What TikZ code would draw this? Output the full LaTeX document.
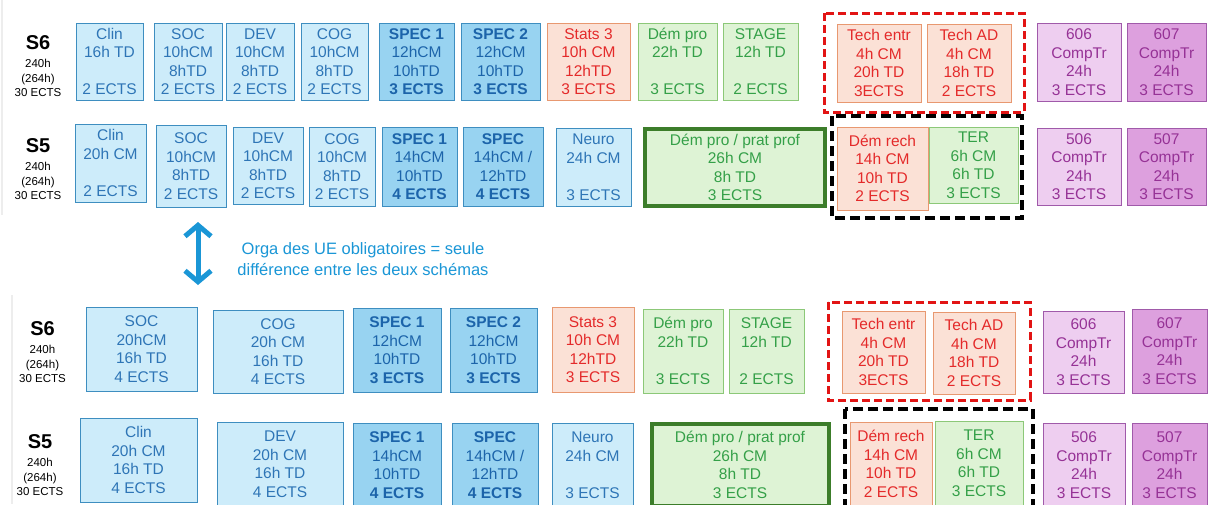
\documentclass[tikz,border=0pt]{standalone}
\usepackage{fontspec}
\setmainfont{Liberation Sans}
\usepackage{tikz}
\usetikzlibrary{positioning,arrows.meta}

\definecolor{bleuclair}{RGB}{205,236,250}
\definecolor{bleuspec}{RGB}{152,211,241}
\definecolor{bleutrait}{RGB}{62,142,192}
\definecolor{bleutexte}{RGB}{46,117,182}
\definecolor{bleuspectexte}{RGB}{28,100,170}
\definecolor{rougeclair}{RGB}{251,225,214}
\definecolor{rougetrait}{RGB}{232,152,112}
\definecolor{rougetexte}{RGB}{228,42,42}
\definecolor{rougevif}{RGB}{226,20,20}
\definecolor{vertclair}{RGB}{222,243,213}
\definecolor{verttrait}{RGB}{140,200,120}
\definecolor{verttexte}{RGB}{52,160,72}
\definecolor{vertfonce}{RGB}{60,125,42}
\definecolor{violetclair}{RGB}{238,206,240}
\definecolor{violetfonce}{RGB}{221,160,222}
\definecolor{violettrait}{RGB}{160,90,170}
\definecolor{violettexte}{RGB}{150,50,150}
\definecolor{flecheb}{RGB}{26,150,214}

\tikzset{
  ue/.style={draw, line width=1pt, align=center, inner sep=0pt, font=\fontsize{15.5}{18.5}\selectfont},
  sz/.style 2 args={minimum width=#1, minimum height=#2},
  uebleu/.style={ue, fill=bleuclair, draw=bleutrait, text=bleutexte},
  uespec/.style={ue, fill=bleuspec, draw=bleutrait, text=bleuspectexte},
  uerouge/.style={ue, fill=rougeclair, draw=rougetrait, text=rougetexte},
  uevert/.style={ue, fill=vertclair, draw=verttrait, text=verttexte},
  ueprat/.style={uevert, draw=vertfonce, line width=4pt},
  uecomp/.style={ue, fill=violetclair, draw=violettrait, text=violettexte},
  uecompf/.style={uecomp, fill=violetfonce},
  sem/.style={inner sep=0pt, font=\bfseries\fontsize{20}{22}\selectfont},
  info/.style={align=center, inner sep=0pt, font=\fontsize{11.5}{14.5}\selectfont},
  cadrerouge/.style={draw=rougevif, line width=3pt, dash pattern=on 8pt off 4pt},
  cadrenoir/.style={draw=black, line width=4.5pt, dash pattern=on 10pt off 5pt},
}

\begin{document}
\begin{tikzpicture}[x=1pt,y=-1pt]
    \useasboundingbox (0,0) rectangle (1208,504);
    \draw[black!7, line width=2pt] (2,0) -- (2,215);
    \draw[black!7, line width=2pt] (12,295) -- (12,504);

    % schema 1, S6
    \node[sem] (s6a) at (38,43) {S6};
    \node[info, below=9pt of s6a] (s6ainfo) {240h\\(264h)\\30 ECTS};
    \node[uebleu, sz={67}{77}] (s6clin) at (109.5,61.5) {Clin\\16h TD\\~\\2 ECTS};
    \node[uebleu, sz={68}{77}] (s6soc) at (188,61.5) {SOC\\10hCM\\8hTD\\2 ECTS};
    \node[uebleu, sz={68}{77}] (s6dev) at (260,61.5) {DEV\\10hCM\\8hTD\\2 ECTS};
    \node[uebleu, sz={67}{77}] (s6cog) at (334.5,61.5) {COG\\10hCM\\8hTD\\2 ECTS};
    \node[uespec, sz={75}{77}] (s6spec1) at (416.5,61.5) {\textbf{SPEC 1}\\12hCM\\10hTD\\\textbf{3 ECTS}};
    \node[uespec, sz={79}{77}] (s6spec2) at (500.5,61.5) {\textbf{SPEC 2}\\12hCM\\10hTD\\\textbf{3 ECTS}};
    \node[uerouge, sz={83}{77}] (s6stats) at (588.5,61.5) {Stats 3\\10h CM\\12hTD\\3 ECTS};
    \node[uevert, sz={79}{77}] (s6dem) at (677.5,61.5) {Dém pro\\22h TD\\~\\3 ECTS};
    \node[uevert, sz={75}{77}] (s6stage) at (760.5,61.5) {STAGE\\12h TD\\~\\2 ECTS};
    \draw[cadrerouge] (824,13) rectangle (1024,112);
    \node[uerouge, sz={84}{78}] (s6tech) at (879,63) {Tech entr\\4h CM\\20h TD\\3ECTS};
    \node[uerouge, sz={84}{78}] (s6techad) at (969,63) {Tech AD\\4h CM\\18h TD\\2 ECTS};
    \node[uecomp, sz={84}{78}] (s6c606) at (1079,62) {606\\CompTr\\24h\\3 ECTS};
    \node[uecompf, sz={79}{78}] (s6c607) at (1166.5,62) {607\\CompTr\\24h\\3 ECTS};

    % schema 1, S5
    \node[sem] (s5a) at (38,146) {S5};
    \node[info, below=9pt of s5a] (s5ainfo) {240h\\(264h)\\30 ECTS};
    \node[uebleu, sz={71}{78}] (s5clin) at (110.5,163) {Clin\\20h CM\\~\\2 ECTS};
    \node[uebleu, sz={70}{82}] (s5soc) at (191,166) {SOC\\10hCM\\8hTD\\2 ECTS};
    \node[uebleu, sz={70}{77}] (s5dev) at (268,165.5) {DEV\\10hCM\\8hTD\\2 ECTS};
    \node[uebleu, sz={66}{79}] (s5cog) at (342,166.5) {COG\\10hCM\\8hTD\\2 ECTS};
    \node[uespec, sz={75}{79}] (s5spec1) at (419.5,166.5) {\textbf{SPEC 1}\\14hCM\\10hTD\\\textbf{4 ECTS}};
    \node[uespec, sz={80}{79}] (s5spec) at (503,166.5) {\textbf{SPEC}\\14hCM /\\12hTD\\\textbf{4 ECTS}};
    \node[uebleu, sz={75}{78}] (s5neuro) at (593.5,167) {Neuro\\24h CM\\~\\3 ECTS};
    \node[ueprat, sz={180}{77}] (s5prat) at (735,167.5) {Dém pro / prat prof\\26h CM\\8h TD\\3 ECTS};
    \draw[cadrenoir] (832,116) rectangle (1022,218);
    \node[uerouge, sz={91}{83}] (s5rech) at (882.5,168.5) {Dém rech\\14h CM\\10h TD\\2 ECTS};
    \node[uevert, sz={89}{76}] (s5ter) at (973.5,165) {TER\\6h CM\\6h TD\\3 ECTS};
    \node[uecomp, sz={84}{77}] (s5c506) at (1079,166.5) {506\\CompTr\\24h\\3 ECTS};
    \node[uecompf, sz={79}{77}] (s5c507) at (1166.5,166.5) {507\\CompTr\\24h\\3 ECTS};

    % entre les deux schemas
    \coordinate (flhaut) at (198,222);
    \coordinate (flbas) at (198,285);
    \draw[flecheb, line width=5pt, line cap=round,
          {Straight Barb[length=11pt,width=26pt,line width=5pt]}-{Straight Barb[length=11pt,width=26pt,line width=5pt]}] (flhaut) -- (flbas);
    \node[align=center, text=flecheb, font=\fontsize{16.5}{21.5}\selectfont] (orga) at (363,259)
        {Orga des UE obligatoires = seule\\différence entre les deux schémas};

    % schema 2, S6
    \node[sem] (s6b) at (42.5,329) {S6};
    \node[info, below=9pt of s6b] (s6binfo) {240h\\(264h)\\30 ECTS};
    \node[uebleu, sz={111}{84}] (b6soc) at (141.5,349) {SOC\\20hCM\\16h TD\\4 ECTS};
    \node[uebleu, sz={130}{83}] (b6cog) at (278,351.5) {COG\\20h CM\\16h TD\\4 ECTS};
    \node[uespec, sz={88}{84}] (b6spec1) at (397,350) {\textbf{SPEC 1}\\12hCM\\10hTD\\\textbf{3 ECTS}};
    \node[uespec, sz={87}{84}] (b6spec2) at (493.5,350) {\textbf{SPEC 2}\\12hCM\\10hTD\\\textbf{3 ECTS}};
    \node[uerouge, sz={82}{85}] (b6stats) at (593,349.5) {Stats 3\\10h CM\\12hTD\\3 ECTS};
    \node[uevert, sz={80}{84}] (b6dem) at (683,351) {Dém pro\\22h TD\\~\\3 ECTS};
    \node[uevert, sz={75}{84}] (b6stage) at (766.5,351) {STAGE\\12h TD\\~\\2 ECTS};
    \draw[cadrerouge] (828,302) rectangle (1030,400);
    \node[uerouge, sz={83}{82}] (b6tech) at (883.5,352) {Tech entr\\4h CM\\20h TD\\3ECTS};
    \node[uerouge, sz={82}{82}] (b6techad) at (974,353) {Tech AD\\4h CM\\18h TD\\2 ECTS};
    \node[uecomp, sz={81}{82}] (b6c606) at (1083.5,352) {606\\CompTr\\24h\\3 ECTS};
    \node[uecompf, sz={75}{84}] (b6c607) at (1169.5,351) {607\\CompTr\\24h\\3 ECTS};

    % schema 2, S5
    \node[sem] (s5b) at (40,442) {S5};
    \node[info, below=9pt of s5b] (s5binfo) {240h\\(264h)\\30 ECTS};
    \node[uebleu, sz={117}{84}] (b5clin) at (138.5,460) {Clin\\20h CM\\16h TD\\4 ECTS};
    \node[uebleu, sz={126}{84}] (b5dev) at (280,464) {DEV\\20h CM\\16h TD\\4 ECTS};
    \node[uespec, sz={88}{84}] (b5spec1) at (397,465) {\textbf{SPEC 1}\\14hCM\\10hTD\\\textbf{4 ECTS}};
    \node[uespec, sz={86}{84}] (b5spec) at (495,465) {\textbf{SPEC}\\14hCM /\\12hTD\\\textbf{4 ECTS}};
    \node[uebleu, sz={81}{84}] (b5neuro) at (592.5,465) {Neuro\\24h CM\\~\\3 ECTS};
    \node[ueprat, sz={177}{82}] (b5prat) at (740,465) {Dém pro / prat prof\\26h CM\\8h TD\\3 ECTS};
    \draw[cadrenoir] (845,409) rectangle (1033,515);
    \node[uerouge, sz={82}{84}] (b5rech) at (891,464) {Dém rech\\14h CM\\10h TD\\2 ECTS};
    \node[uevert, sz={88}{84}] (b5ter) at (979,463) {TER\\6h CM\\6h TD\\3 ECTS};
    \node[uecomp, sz={82}{84}] (b5c506) at (1084,465) {506\\CompTr\\24h\\3 ECTS};
    \node[uecompf, sz={75}{84}] (b5c507) at (1169.5,465) {507\\CompTr\\24h\\3 ECTS};
\end{tikzpicture}
\end{document}
